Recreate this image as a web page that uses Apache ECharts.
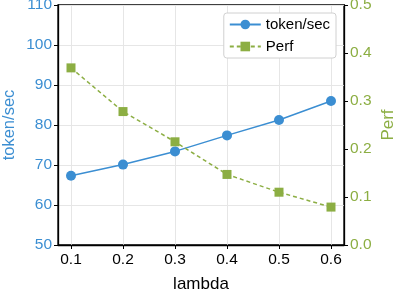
<!DOCTYPE html>
<html><head><meta charset="utf-8">
<script src="https://cdn.jsdelivr.net/npm/echarts@6/dist/echarts.min.js"></script>
<style>html,body{margin:0;padding:0;background:#fff}#c{width:398px;height:292px}</style>
</head><body><div id="c"></div>
<script>
var lambdas = [0.1, 0.2, 0.3, 0.4, 0.5, 0.6];
var tokenPerSec = [67.3, 70.1, 73.4, 77.4, 81.25, 86.0];
var perf = [0.369, 0.278, 0.215, 0.147, 0.110, 0.079];
var xTicks = [0.1, 0.2, 0.3, 0.4, 0.5, 0.6];
var leftTicks = [50, 60, 70, 80, 90, 100, 110];
var rightTicks = [0.0, 0.1, 0.2, 0.3, 0.4, 0.5];

var BLUE = '#3b8ed2', GREEN = '#8cae43';
var FONT = 'Liberation Sans, Arial, sans-serif';
var chart = echarts.init(document.getElementById('c'), null, {renderer: 'canvas'});
chart.setOption({
  animation: false,
  grid: {left: 58, right: 54, top: 5, bottom: 47, outerBoundsMode: 'none', containLabel: false,
    show: true, borderColor: '#000', borderWidth: 1.3, backgroundColor: 'transparent'},
  legend: {
    orient: 'vertical', right: 62, top: 13,
    backgroundColor: '#fff', borderColor: '#d0d0d0', borderWidth: 1, borderRadius: 3,
    padding: [4, 6, 4, 5], itemGap: 7, itemWidth: 31, itemHeight: 12,
    textStyle: {fontFamily: FONT, fontSize: 15, color: '#000'},
    data: ['token/sec', 'Perf']
  },
  xAxis: {
    type: 'value', min: 0.075, max: 0.625,
    name: 'lambda', nameLocation: 'middle', nameGap: 31, nameMoveOverlap: false,
    nameTextStyle: {fontFamily: FONT, fontSize: 17, color: '#000'},
    axisLine: {show: true, lineStyle: {color: '#000', width: 1.3}},
    axisTick: {show: true, customValues: xTicks, length: 4, lineStyle: {color: '#000'}},
    axisLabel: {customValues: xTicks, fontFamily: FONT, fontSize: 15.5, color: '#000', margin: 7,
      formatter: function (v) { return v.toFixed(1); }},
    splitLine: {show: true, lineStyle: {color: '#e6e6e6', width: 1}}
  },
  yAxis: [{
    type: 'value', min: 50, max: 110, interval: 10, position: 'left',
    name: 'token/sec', nameLocation: 'middle', nameGap: 40, nameRotate: 90, nameMoveOverlap: false,
    nameTextStyle: {fontFamily: FONT, fontSize: 16.5, color: BLUE},
    axisLine: {show: true, lineStyle: {color: '#000', width: 1.3}},
    axisTick: {show: true, length: 4, lineStyle: {color: '#000'}},
    axisLabel: {fontFamily: FONT, fontSize: 15.5, color: BLUE, margin: 6},
    splitLine: {show: true, lineStyle: {color: '#e6e6e6', width: 1}}
  }, {
    type: 'value', min: 0, max: 0.5, interval: 0.1, position: 'right',
    name: 'Perf', nameLocation: 'middle', nameGap: 36, nameRotate: 90, nameMoveOverlap: false,
    nameTextStyle: {fontFamily: FONT, fontSize: 17, color: GREEN},
    axisLine: {show: true, lineStyle: {color: '#000', width: 1.3}},
    axisTick: {show: true, length: 4, lineStyle: {color: '#000'}},
    axisLabel: {fontFamily: FONT, fontSize: 15.5, color: GREEN, margin: 6,
      formatter: function (v) { return v.toFixed(1); }},
    splitLine: {show: false}
  }],
  series: [{
    name: 'token/sec', type: 'line', yAxisIndex: 0,
    data: lambdas.map(function (x, i) { return [x, tokenPerSec[i]]; }),
    symbol: 'circle', symbolSize: 10,
    itemStyle: {color: BLUE}, lineStyle: {color: BLUE, width: 1.5}
  }, {
    name: 'Perf', type: 'line', yAxisIndex: 1,
    data: lambdas.map(function (x, i) { return [x, perf[i]]; }),
    symbol: 'rect', symbolSize: 9,
    itemStyle: {color: GREEN}, lineStyle: {color: GREEN, width: 1.5, type: [4, 3]}
  }]
});
</script></body></html>
